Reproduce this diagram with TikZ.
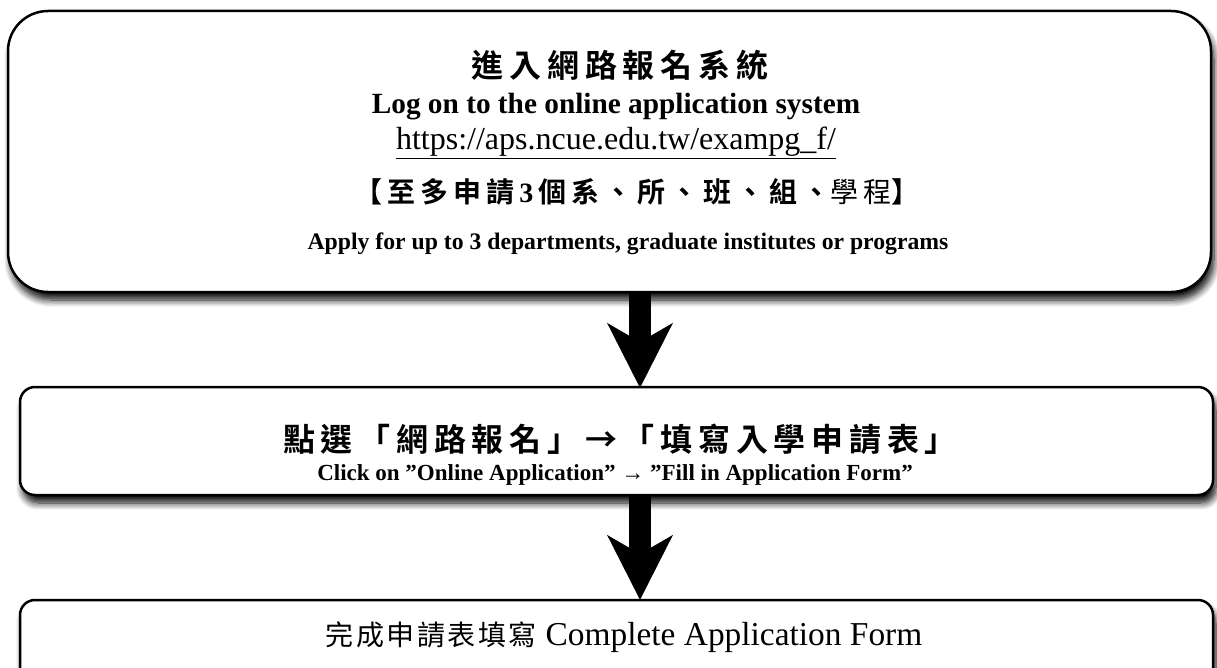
\documentclass[tikz,border=0pt]{standalone}
\usepackage{fontspec}
\setmainfont{Liberation Serif}
\newfontfamily\cjk{Noto Sans CJK TC}
\newfontfamily\cjkb[LetterSpace=18]{Noto Sans CJK TC Bold}
\newfontfamily\cjkr[LetterSpace=18]{Noto Sans CJK TC}
\newfontfamily\cjkq[LetterSpace=9]{Noto Sans CJK TC}
\usetikzlibrary{arrows.meta,shadows.blur,positioning}
\tikzset{
  shadowed/.style={blur shadow={shadow xshift=3pt,shadow yshift=-8pt,shadow blur steps=8,shadow blur radius=7pt,shadow opacity=95}},
  boxbig/.style={draw=black,line width=2.5pt,fill=white,rounded corners=40pt,shadowed},
  boxsmall/.style={draw=black,line width=2.5pt,fill=white,rounded corners=15pt,shadowed},
  txt/.style={inner sep=0pt,anchor=center},
  bigarrow/.style={line width=22pt,-{Stealth[length=64pt,width=64pt,inset=18pt]}},
}
\begin{document}
\begin{tikzpicture}[x=1pt,y=1pt]
\useasboundingbox (0,0) rectangle (1217,-668);
\begin{scope}
\clip (0,0) rectangle (1217,-668);
\draw[boxbig] (8,-11) rectangle (1211,-292);
\draw[boxsmall] (20,-387) rectangle (1213,-495);
\draw[boxsmall] (20,-600) rectangle (1213,-700);
\end{scope}
\coordinate (b1s) at (640,-292);
\coordinate (b2n) at (640,-388);
\coordinate (b2s) at (640,-495);
\coordinate (b3n) at (640,-600);
\draw[bigarrow] (b1s) -- (b2n);
\draw[bigarrow] (b2s) -- (b3n);
% box 1 text
\node[txt] (t1) at (620,-65) {\fontsize{32}{38}\cjkb 進入網路報名系統};
\node[txt] (t2) at (616,-107) {\fontsize{29.3}{34}\selectfont\bfseries Log on to the online application system};
\node[txt] (t3) at (616,-143) {\fontsize{32}{36}\selectfont\underline{https://aps.ncue.edu.tw/exampg\_f/}};
\node[txt] (t4) at (637,-192) {\fontsize{28}{32}\cjkb 【至多申請\,{\rmfamily\bfseries 3}\,個系、所、班、組、{\cjkr 學程}】};
\node[txt] (t5) at (628,-244) {\fontsize{23.7}{28}\selectfont\bfseries Apply for up to 3 departments, graduate institutes or programs};
% box 2 text
\node[txt] (u1) at (620,-439) {\fontsize{32}{38}\cjkb 點選「網路報名」→「填寫入學申請表」};
\node[txt] (u2) at (615,-475) {\fontsize{23}{27}\selectfont\bfseries Click on ”Online Application” → ”Fill in Application Form”};
% box 3 text
\node[txt] (v1) at (624,-637) {\fontsize{28}{32}\cjkq 完成申請表填寫 {\rmfamily\fontsize{33.4}{38}\selectfont Complete Application Form}};
\end{tikzpicture}
\end{document}
